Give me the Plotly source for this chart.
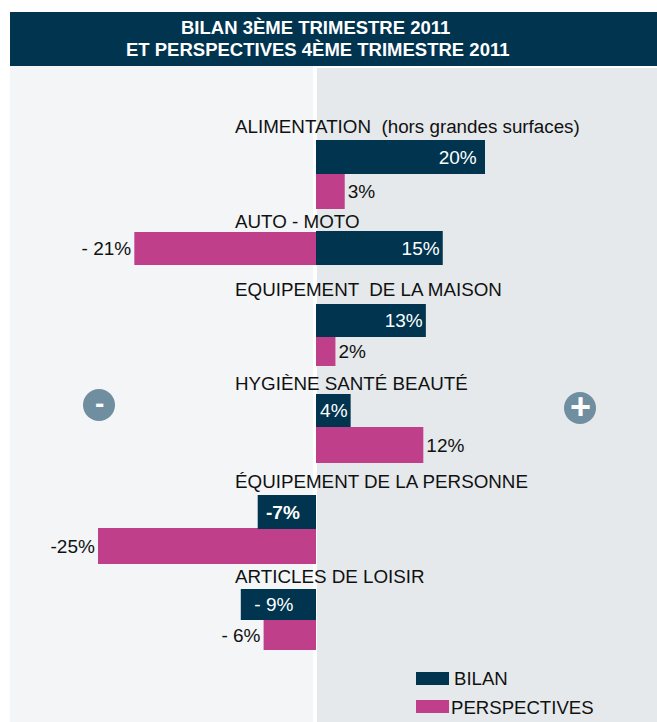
import plotly.graph_objects as go

W, H = 657, 722

# ---- data ----
categories = ["ALIMENTATION  (hors grandes surfaces)", "AUTO - MOTO", "EQUIPEMENT  DE LA MAISON",
              "HYGIÈNE SANTÉ BEAUTÉ", "ÉQUIPEMENT DE LA PERSONNE", "ARTICLES DE LOISIR"]
bilan = [20, 15, 13, 4.1, -6.9, -8.9]
perspectives = [3.4, -21.5, 2.3, 12.7, -25.8, -6.2]
bilan_labels = ["20%&nbsp;", "15%", "13%", "4%", "&nbsp;<b>-7%</b>", "&nbsp;&nbsp;- 9%"]
perspectives_labels = ["3%", "- 21%", "2%", "12%", "-25%", "- 6%"]
title_lines = ["BILAN 3ÈME TRIMESTRE 2011", "ET PERSPECTIVES 4ÈME TRIMESTRE 2011"]
legend_names = ["BILAN", "PERSPECTIVES"]

# ---- layout constants, in page pixels ----
NAVY, PINK = "#00344f", "#bf3f8a"
PANEL_L, PANEL_R, BADGE = "#f3f5f7", "#e5e9ec", "#6f8ea0"
FONT = "Liberation Sans"
INK = "#111111"
px_per_pct = 8.45
zero_px = 316
row_px = 89.2
row0_px = 174
bilan_span = [(140, 174), (231, 265), (304, 337), (394, 427), (495, 529), (589, 620)]
persp_span = [(173, 209), (232, 265), (337, 366), (427, 463), (528, 564), (620, 650)]
label_y = [126, 221, 289, 383, 481, 576]
label_x = 233


def offs(spans):
    return [(a - (row0_px + i * row_px)) / row_px for i, (a, b) in enumerate(spans)]


def wids(spans):
    return [(b - a) / row_px for a, b in spans]


def px(x):
    return x / W


def py(y):
    return 1 - y / H


fig = go.Figure()
fig.add_bar(name="PERSPECTIVES", y=categories, x=perspectives, orientation="h",
            offset=offs(persp_span), width=wids(persp_span), marker=dict(color=PINK, line_width=0),
            text=perspectives_labels, textposition="outside", textangle=0,
            outsidetextfont=dict(color=INK, size=19, family=FONT),
            cliponaxis=False, constraintext="none", showlegend=False)
fig.add_bar(name="BILAN", y=categories, x=bilan, orientation="h",
            offset=offs(bilan_span), width=wids(bilan_span), marker=dict(color=NAVY, line_width=0),
            text=bilan_labels, textposition="inside", insidetextanchor="end", textangle=0,
            insidetextfont=dict(color="#ffffff", size=19, family=FONT),
            cliponaxis=False, constraintext="none", showlegend=False)


def rect(x0, x1, y0, y1, color):
    return dict(type="rect", xref="paper", yref="paper", x0=px(x0), x1=px(x1), y0=py(y0), y1=py(y1),
                fillcolor=color, line_width=0, layer="below")


def note(text, x, y, size, color=INK, xanchor="left"):
    return dict(text=text, xref="paper", yref="paper", x=px(x), y=py(y), showarrow=False,
                xanchor=xanchor, yanchor="middle", font=dict(color=color, size=size, family=FONT))


shapes = [
    rect(10, 313, 66, 722, PANEL_L),
    rect(317, W, 68, 722, PANEL_R),
    rect(10, W, 12, 66, NAVY),
    dict(type="circle", xref="paper", yref="paper", x0=px(83), x1=px(115), y0=py(389), y1=py(421),
         fillcolor=BADGE, line_width=0, layer="below"),
    dict(type="circle", xref="paper", yref="paper", x0=px(564), x1=px(596), y0=py(392), y1=py(424),
         fillcolor=BADGE, line_width=0, layer="below"),
    rect(416, 449, 672, 685, NAVY),
    rect(416, 449, 700, 713, PINK),
]

ann = [
    note(f"<b>{title_lines[0]}</b>", 315.5, 27.5, 18.5, "white", "center"),
    note(f"<b>{title_lines[1]}</b>", 317, 49.5, 18.5, "white", "center"),
    note("<b>-</b>", 99.5, 403, 28, "white", "center"),
    note("<b>+</b>", 580, 407, 36, "white", "center"),
    note(legend_names[0], 452, 678, 18.6),
    note(legend_names[1], 449, 707, 18.6),
]
for name, y in zip(categories, label_y):
    ann.append(note(name, label_x, y, 18.8))

fig.update_layout(
    width=W, height=H, margin=dict(l=0, r=0, t=0, b=0, autoexpand=False),
    paper_bgcolor="white", plot_bgcolor="rgba(0,0,0,0)",
    barmode="overlay", shapes=shapes, annotations=ann, showlegend=False,
    xaxis=dict(range=[(0 - zero_px) / px_per_pct, (W - zero_px) / px_per_pct], visible=False, fixedrange=True),
    yaxis=dict(type="category", categoryorder="array", categoryarray=categories,
               range=[(H - row0_px) / row_px, (0 - row0_px) / row_px], visible=False, fixedrange=True),
)
fig.write_html("out.html", config={"displayModeBar": False},
               post_script="document.body.style.margin='0';document.documentElement.style.overflow='hidden';window.dispatchEvent(new Event('resize'));")
